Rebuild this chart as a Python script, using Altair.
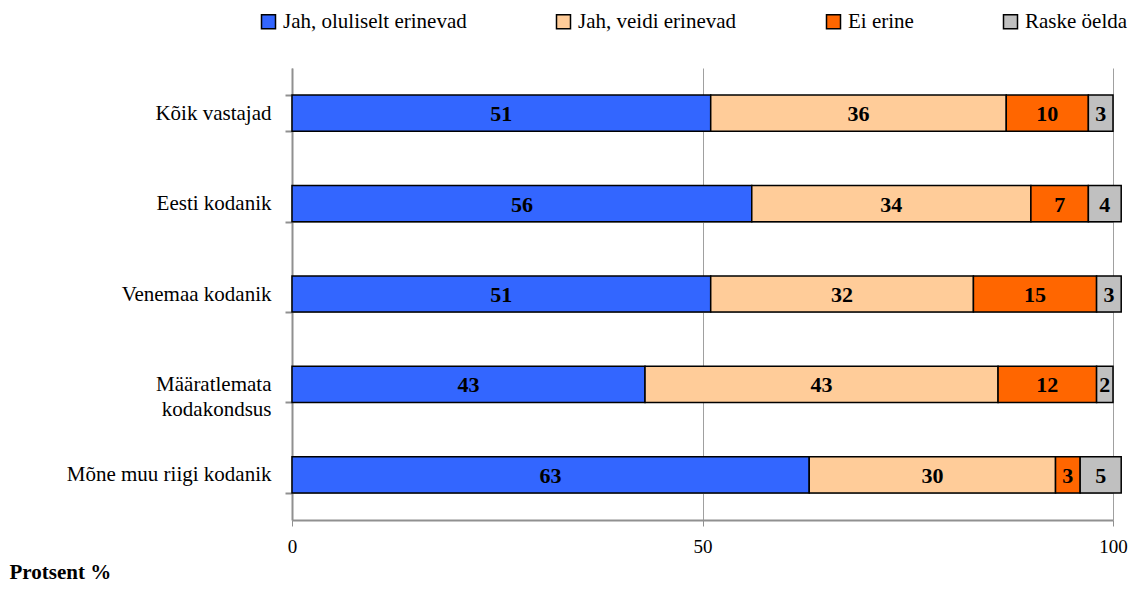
import altair as alt
import pandas as pd

categories = ["Kõik vastajad", "Eesti kodanik", "Venemaa kodanik",
              "Määratlemata kodakondsus", "Mõne muu riigi kodanik"]
series = ["Jah, oluliselt erinevad", "Jah, veidi erinevad", "Ei erine", "Raske öelda"]
colors = ["#3366FF", "#FFCC99", "#FF6600", "#C0C0C0"]

v_oluliselt = [51, 56, 51, 43, 63]
v_veidi = [36, 34, 32, 43, 30]
v_ei = [10, 7, 15, 12, 3]
v_raske = [3, 4, 3, 2, 5]

x_ticks = [0, 50, 100]

rows = []
for ci, cat in enumerate(categories):
    for si, (s, vals) in enumerate(zip(series, [v_oluliselt, v_veidi, v_ei, v_raske])):
        rows.append({"category": cat, "series": s, "value": vals[ci], "order": si})
df = pd.DataFrame(rows)

FONT = "Liberation Serif"

base = alt.Chart(df).transform_stack(
    stack="value", groupby=["category"], as_=["x0", "x1"],
    sort=[alt.SortField("order", order="ascending")]
).transform_calculate(mid="(datum.x0 + datum.x1) / 2")

y_enc = alt.Y("category:N", sort=categories, title=None,
              scale=alt.Scale(paddingInner=0.6, paddingOuter=0.3),
              axis=alt.Axis(tickBand="extent", grid=True, gridColor="#B0B0B0", gridWidth=1,
                            domainColor="#909090", domainWidth=2, tickColor="#909090",
                            tickWidth=2, tickSize=7, labelPadding=14, labelLimit=400,
                            labelFont=FONT, labelFontSize=21, labelColor="black",
                            labelLineHeight=25,
                            labelExpr="datum.label == 'Määratlemata kodakondsus' ? ['Määratlemata', 'kodakondsus'] : datum.label"))

x_axis = alt.Axis(values=x_ticks, grid=True, gridColor="#A0A0A0", gridWidth=1,
                  domainColor="#909090", domainWidth=2, tickColor="#909090", tickWidth=1,
                  tickSize=6, labelPadding=11, labelFont=FONT, labelFontSize=19,
                  labelFlush=False,
                  labelColor="black", title="Protsent %", titleFont=FONT, titleFontSize=21,
                  titleFontWeight="bold", titleColor="black", titleAnchor="start",
                  titleAlign="left", titleX=-283, titleY=58, titleBaseline="alphabetic")

bars = base.mark_bar(stroke="black", strokeWidth=1.5).encode(
    y=y_enc,
    x=alt.X("x0:Q", scale=alt.Scale(domain=[0, 100], nice=False), axis=x_axis),
    x2="x1:Q",
    color=alt.Color("series:N", scale=alt.Scale(domain=series, range=colors),
                    legend=alt.Legend(title=None, orient="none", direction="horizontal",
                                      legendX=-34, legendY=-57,
                                      symbolType="square", symbolSize=196,
                                      symbolStrokeColor="black", symbolStrokeWidth=1.5,
                                      labelFont=FONT, labelFontSize=21, labelColor="black",
                                      labelOffset=4, columnPadding=86, labelLimit=400)),
)

labels = base.mark_text(font=FONT, fontSize=22, fontWeight="bold", color="black",
                        baseline="middle", dy=1).encode(
    y=alt.Y("category:N", sort=categories),
    x=alt.X("mid:Q"),
    text=alt.Text("value:Q"),
)

chart = alt.layer(bars, labels).properties(
    width=821, height=452,
    autosize=alt.AutoSizeParams(type="none"),
    padding={"left": 284, "top": 60, "right": 20, "bottom": 64},
).configure_view(stroke=None)

chart.save("out.html", embed_options={"renderer": "svg", "actions": False})
